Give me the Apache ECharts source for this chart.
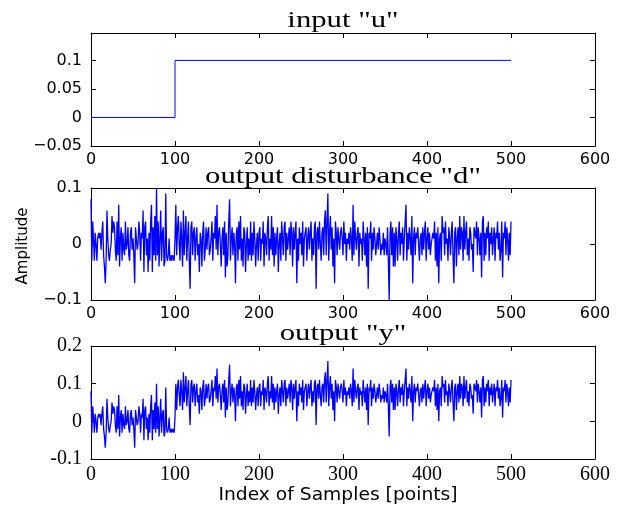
<!DOCTYPE html>
<html><head><meta charset="utf-8">
<script src="https://cdn.jsdelivr.net/npm/echarts@6/dist/echarts.min.js"></script>
<style>html,body{margin:0;padding:0;background:#fff}#c{width:625px;height:510px}</style>
</head><body><div id="c"></div>
<script>
const titles = ['input "u"', 'output disturbance "d"', 'output "y"'];
const xLabelText = 'Index of Samples [points]';
const yLabelText = 'Amplitude';
const uTimes = [0, 100, 100, 500];
const uValues = [0, 0, 0.1, 0.1];
const dValues = [
0.08,-0.03,0.04,0.01,-0.03,0.02,0,-0.03,0.01,0.02,0.01,0.02,-0.01,0.02,0.04,-0.02,-0.04,-0.07,-0.03,0.06,
0.01,-0.02,-0.03,-0.01,0,0.05,0.02,0.04,0.03,-0.01,-0.03,0.04,-0.02,0.07,-0.04,0.01,0.03,-0.03,0.02,-0.01,
-0.02,0.04,-0.01,0,0.03,-0.02,-0.03,0.02,0.03,-0.01,0.01,-0.02,-0.07,0.03,0.01,-0.01,0,0.04,0.02,-0.03,
0.02,0.01,0.06,-0.05,0.03,0.04,-0.02,0.01,-0.05,0.02,-0.03,0.04,0.07,-0.05,0.03,-0.02,0.05,-0.03,0.1,-0.02,
0.04,-0.04,0.01,0.06,-0.03,0.02,0.03,-0.04,-0.03,0.09,-0.02,-0.03,-0.02,0.01,-0.03,-0.02,-0.03,-0.02,-0.025,-0.03,
0.01,0.07,-0.02,0.03,0.05,0,-0.03,0.04,0.01,-0.04,0.06,-0.02,0.02,0.05,-0.03,0.01,0.04,-0.03,-0.08,0.03,
0.04,-0.02,0.02,0.03,-0.03,0.01,0.03,-0.02,0,-0.05,0.02,0.01,-0.04,0.02,0.04,-0.03,-0.01,0.03,-0.01,0.02,
0.03,-0.02,-0.01,0.01,0.04,-0.03,0.02,0.01,0.05,-0.01,0.07,-0.02,0.02,0.03,0,-0.04,0.01,0.03,-0.02,0.04,
-0.06,0.02,-0.04,-0.02,0.04,0.08,-0.03,0.01,0.03,-0.02,0.02,0,-0.07,0.02,0.03,-0.03,0.04,-0.01,0.05,-0.03,
0.01,-0.04,0.03,0.02,-0.05,0,0.03,-0.03,0.01,-0.02,0.04,-0.03,0.02,-0.02,0.04,0.01,-0.04,0,0.02,-0.03,
0.02,0.03,-0.03,0.01,0,0.04,-0.04,0.02,0.01,-0.02,0.03,0.05,-0.03,0.01,-0.01,0.05,-0.02,0.03,-0.04,0.02,
-0.02,0.01,0.03,-0.05,0,0.02,-0.03,0.04,0.01,-0.02,0.03,0.04,-0.03,0.02,-0.01,0.01,0.03,-0.02,0.04,0.02,
-0.04,0.03,-0.01,0.02,0.04,-0.07,0.01,-0.03,0.03,0,0.02,-0.02,0.04,-0.04,0.01,0.02,0.03,-0.03,0.01,0.03,
-0.01,0.02,0.04,-0.03,0.01,-0.02,0.03,0.04,-0.08,0.02,0.03,-0.01,0.04,0,-0.03,0.02,0.03,-0.02,0.04,0.06,
-0.02,0.04,0.09,-0.03,0.02,0.05,-0.01,0.03,-0.04,0.01,-0.07,0.04,0.02,-0.02,0.03,0.01,-0.01,0.02,0.03,0.01,
-0.02,0.04,0,0.02,-0.03,0.01,0,0.02,-0.01,0.03,0.01,-0.03,0.07,-0.02,0.04,0.01,-0.01,0.02,0.03,-0.04,
0.02,0,0.01,-0.03,0.04,0.01,-0.02,0.02,-0.04,0.03,-0.08,0.02,0.01,0.04,-0.03,0.02,-0.01,0.03,0.01,-0.02,
0,0.02,-0.01,0.03,0.01,-0.02,0,-0.01,0.02,-0.02,0.01,0,-0.02,0.03,-0.03,-0.1,0.02,0.04,-0.02,0.03,
-0.04,0.02,-0.04,0.03,0.01,-0.03,0.02,0.04,-0.02,0.02,0,0.03,-0.03,0.01,0.04,0.07,-0.03,0.02,-0.01,0.03,
0.01,-0.02,0.05,-0.07,0.01,0.03,-0.02,0.02,0.01,0.03,0,-0.03,0.01,0.02,-0.02,0.03,-0.01,0.02,0.04,-0.03,
0.01,0.03,-0.01,0.02,-0.02,0,0.01,0.02,0.01,0.04,-0.03,0.02,-0.04,0.03,-0.07,0.01,0.02,-0.03,0.05,0.02,
0.03,-0.02,0.04,0,0.01,-0.03,0.03,0.01,-0.02,0.02,0.04,-0.02,-0.07,0.02,0.03,-0.04,0.01,0.03,-0.02,0.05,
-0.01,0.03,0.02,-0.03,0.05,-0.01,0.02,0.04,-0.02,0.01,-0.03,0.03,0.02,-0.01,0,-0.05,0.03,0.02,0.01,0.04,
-0.02,0.03,0.01,-0.02,0.02,-0.06,0.04,0.05,-0.03,0.02,-0.02,0.03,0.01,0.04,-0.03,0.02,0,0.03,-0.02,0.01,
0.03,-0.03,0.02,0.01,0.04,-0.01,0.02,-0.03,-0.01,0.04,-0.06,0.02,0.01,0.04,-0.02,0.03,0.01,-0.03,0.02,-0.02,
0.04];
const yValues = [
0.08,-0.03,0.04,0.01,-0.03,0.02,0,-0.03,0.01,0.02,0.01,0.02,-0.01,0.02,0.04,-0.02,-0.04,-0.07,-0.03,0.06,
0.01,-0.02,-0.03,-0.01,0,0.05,0.02,0.04,0.03,-0.01,-0.03,0.04,-0.02,0.07,-0.04,0.01,0.03,-0.03,0.02,-0.01,
-0.02,0.04,-0.01,0,0.03,-0.02,-0.03,0.02,0.03,-0.01,0.01,-0.02,-0.07,0.03,0.01,-0.01,0,0.04,0.02,-0.03,
0.02,0.01,0.06,-0.05,0.03,0.04,-0.02,0.01,-0.05,0.02,-0.03,0.04,0.07,-0.05,0.03,-0.02,0.05,-0.03,0.1,-0.02,
0.04,-0.04,0.01,0.06,-0.03,0.02,0.03,-0.04,-0.03,0.09,-0.02,-0.03,-0.02,0.01,-0.03,-0.02,-0.03,-0.02,-0.025,-0.03,
0.01,0.1,0.03,0.09,0.11,0.07,0.04,0.11,0.08,0.03,0.13,0.05,0.09,0.12,0.04,0.08,0.11,0.04,-0.01,0.1,
0.11,0.05,0.09,0.1,0.04,0.08,0.1,0.05,0.07,0.02,0.09,0.08,0.03,0.09,0.11,0.04,0.06,0.1,0.06,0.09,
0.1,0.05,0.06,0.08,0.11,0.04,0.09,0.08,0.12,0.06,0.14,0.05,0.09,0.1,0.07,0.03,0.08,0.1,0.05,0.11,
0.01,0.09,0.03,0.05,0.11,0.15,0.04,0.08,0.1,0.05,0.09,0.07,0,0.09,0.1,0.04,0.11,0.06,0.12,0.04,
0.08,0.03,0.1,0.09,0.02,0.07,0.1,0.04,0.08,0.05,0.11,0.04,0.09,0.05,0.11,0.08,0.03,0.07,0.09,0.04,
0.09,0.1,0.04,0.08,0.07,0.11,0.03,0.09,0.08,0.05,0.1,0.12,0.04,0.08,0.06,0.12,0.05,0.1,0.03,0.09,
0.05,0.08,0.1,0.02,0.07,0.09,0.04,0.11,0.08,0.05,0.1,0.11,0.04,0.09,0.06,0.08,0.1,0.05,0.11,0.09,
0.03,0.1,0.06,0.09,0.11,0,0.08,0.04,0.1,0.07,0.09,0.05,0.11,0.03,0.08,0.09,0.1,0.04,0.08,0.1,
0.06,0.09,0.11,0.04,0.08,0.05,0.1,0.11,-0.01,0.09,0.1,0.06,0.11,0.07,0.04,0.09,0.1,0.05,0.11,0.13,
0.05,0.11,0.16,0.04,0.09,0.12,0.06,0.1,0.03,0.08,0,0.11,0.09,0.05,0.1,0.08,0.06,0.09,0.1,0.08,
0.05,0.11,0.07,0.09,0.04,0.08,0.07,0.09,0.06,0.1,0.08,0.04,0.14,0.05,0.11,0.08,0.06,0.09,0.1,0.03,
0.09,0.07,0.08,0.04,0.11,0.08,0.05,0.09,0.03,0.1,-0.01,0.09,0.08,0.11,0.04,0.09,0.06,0.1,0.08,0.05,
0.07,0.09,0.06,0.1,0.08,0.05,0.07,0.06,0.09,0.05,0.08,0.07,0.05,0.1,0.04,-0.04,0.09,0.11,0.05,0.1,
0.03,0.09,0.03,0.1,0.08,0.04,0.09,0.11,0.05,0.09,0.07,0.1,0.04,0.08,0.11,0.14,0.04,0.09,0.06,0.1,
0.08,0.05,0.12,0,0.08,0.1,0.05,0.09,0.08,0.1,0.07,0.04,0.08,0.09,0.05,0.1,0.06,0.09,0.11,0.04,
0.08,0.1,0.06,0.09,0.05,0.07,0.08,0.09,0.08,0.11,0.04,0.09,0.03,0.1,0,0.08,0.09,0.04,0.12,0.09,
0.1,0.05,0.11,0.07,0.08,0.04,0.1,0.08,0.05,0.09,0.11,0.05,0,0.09,0.1,0.03,0.08,0.1,0.05,0.12,
0.06,0.1,0.09,0.04,0.12,0.06,0.09,0.11,0.05,0.08,0.04,0.1,0.09,0.06,0.07,0.02,0.1,0.09,0.08,0.11,
0.05,0.1,0.08,0.05,0.09,0.01,0.11,0.12,0.04,0.09,0.05,0.1,0.08,0.11,0.04,0.09,0.07,0.1,0.05,0.08,
0.1,0.04,0.09,0.08,0.11,0.06,0.09,0.04,0.06,0.11,0.01,0.09,0.08,0.11,0.05,0.1,0.08,0.04,0.09,0.05,
0.11];

const sans = 'DejaVu Sans';
const serif = 'Liberation Serif';
const grids = [
  {left: 91, top: 33, width: 504, height: 113},
  {left: 91, top: 188, width: 504, height: 112},
  {left: 91, top: 346, width: 504, height: 113}
];
const yRanges = [
  {min: -0.05, max: 0.148, interval: 0.05},
  {min: -0.1, max: 0.1, interval: 0.1},
  {min: -0.1, max: 0.2, interval: 0.1}
];
const tickFonts = [
  {family: sans, size: 16, minus: '\u2212'},
  {family: sans, size: 16, minus: '\u2212'},
  {family: serif, size: 20, minus: '-'}
];

function fmt(v, minus, step) {
  const r = Math.round(v * 1000) / 1000;
  const k = r / step;
  if (Math.abs(k - Math.round(k)) > 1e-6) return '';
  if (r === 0) return '0';
  return (r < 0 ? minus : '') + String(Math.abs(r));
}

const axisLine = {show: true, onZero: false, lineStyle: {color: '#000', width: 1}};
const axisTick = {show: true, inside: true, length: 5, lineStyle: {color: '#000', width: 1}};

const xAxes = [], yAxes = [];
grids.forEach((g, i) => {
  const f = tickFonts[i];
  ['bottom', 'top'].forEach(pos => {
    xAxes.push({
      type: 'value', gridIndex: i, position: pos, min: 0, max: 600, interval: 100,
      axisLine, axisTick, splitLine: {show: false},
      axisLabel: {show: pos === 'bottom', color: '#000', fontFamily: f.family, fontSize: f.size, margin: 6,
        formatter: v => String(Math.round(v))}
    });
  });
  ['left', 'right'].forEach(pos => {
    const r = yRanges[i];
    yAxes.push({
      type: 'value', gridIndex: i, position: pos, min: r.min, max: r.max, interval: r.interval,
      axisLine, axisTick, splitLine: {show: false},
      axisLabel: {show: pos === 'left', color: '#000', fontFamily: f.family, fontSize: f.size, margin: 9,
        showMaxLabel: true, formatter: v => fmt(v, f.minus, r.interval)}
    });
  });
});

const lineCommon = {type: 'line', showSymbol: false, symbol: 'none', animation: false,
  lineStyle: {color: '#0000ff', width: 1.3}, itemStyle: {color: '#0000ff'}};

const series = [
  Object.assign({}, lineCommon, {xAxisIndex: 0, yAxisIndex: 0, lineStyle: {color: '#0000ff', width: 1},
    data: uTimes.map((t, i) => [t, uValues[i]])}),
  Object.assign({}, lineCommon, {xAxisIndex: 2, yAxisIndex: 2, data: dValues.map((v, i) => [i, v])}),
  Object.assign({}, lineCommon, {xAxisIndex: 4, yAxisIndex: 4, data: yValues.map((v, i) => [i, v])})
];

const titleY = [21, 177, 334];
const graphic = titles.map((t, i) => ({
  type: 'text', x: 343, y: titleY[i], scaleX: 1.28, scaleY: 1,
  style: {text: t, fontFamily: serif, fontSize: 24, fill: '#000', align: 'center', verticalAlign: 'middle'}
}));
graphic.push({type: 'text', x: 23, y: 246, rotation: Math.PI / 2,
  style: {text: yLabelText, fontFamily: sans, fontSize: 15, fill: '#000', align: 'center', verticalAlign: 'middle'}});
graphic.push({type: 'text', x: 338, y: 496, scaleX: 1.1, scaleY: 1,
  style: {text: xLabelText, fontFamily: sans, fontSize: 17, fill: '#000', align: 'center', verticalAlign: 'middle'}});

const chart = echarts.init(document.getElementById('c'), null, {renderer: 'canvas'});
chart.setOption({
  animation: false,
  backgroundColor: '#fff',
  grid: grids,
  xAxis: xAxes,
  yAxis: yAxes,
  series,
  graphic
});
</script>
</body></html>
